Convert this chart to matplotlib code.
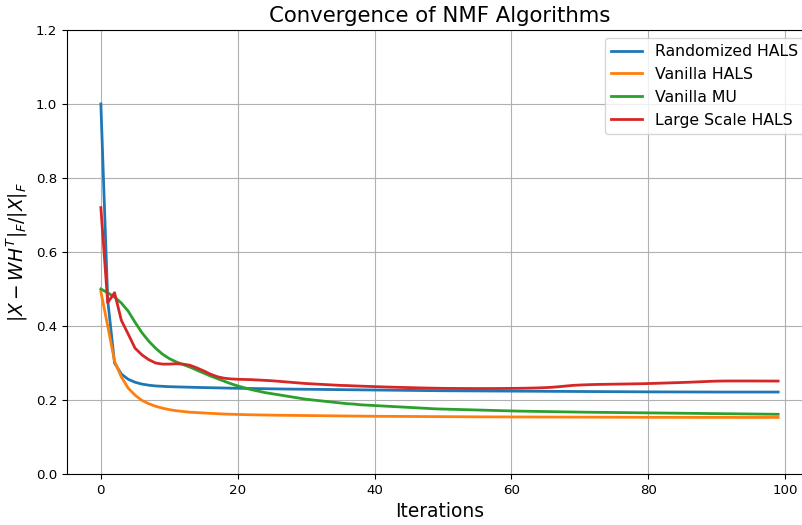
import matplotlib
matplotlib.use("Agg")
import matplotlib.pyplot as plt
import numpy as np

iterations = list(range(100))

randomized_hals = [
    1.000, 0.470, 0.300, 0.270, 0.256, 0.248, 0.243, 0.240, 0.238, 0.237,
    0.236, 0.2355, 0.235, 0.2345, 0.234, 0.2336, 0.2332, 0.2328, 0.2324, 0.232,
    0.2317, 0.2314, 0.2311, 0.2308, 0.2305, 0.2302, 0.2299, 0.2296, 0.2294, 0.2292,
    0.229, 0.2288, 0.2286, 0.2284, 0.2282, 0.228, 0.2278, 0.2276, 0.2274, 0.2272,
    0.227, 0.2268, 0.2266, 0.2264, 0.2262, 0.226, 0.2258, 0.2256, 0.2254, 0.2252,
    0.225, 0.2249, 0.2248, 0.2247, 0.2246, 0.2245, 0.2244, 0.2243, 0.2242, 0.2241,
    0.224, 0.2239, 0.2238, 0.2237, 0.2236, 0.2235, 0.2234, 0.2233, 0.2232, 0.2231,
    0.223, 0.2229, 0.2228, 0.2227, 0.2226, 0.2225, 0.2224, 0.2223, 0.2222, 0.2221,
    0.222, 0.222, 0.2219, 0.2219, 0.2218, 0.2218, 0.2217, 0.2217, 0.2216, 0.2216,
    0.2215, 0.2215, 0.2215, 0.2215, 0.2215, 0.2215, 0.2215, 0.2215, 0.2215, 0.2215,
]

vanilla_hals = [
    0.493, 0.400, 0.305, 0.262, 0.232, 0.213, 0.199, 0.190, 0.183, 0.178,
    0.174, 0.171, 0.169, 0.167, 0.166, 0.165, 0.164, 0.163, 0.162, 0.1615,
    0.161, 0.1605, 0.160, 0.1597, 0.1594, 0.1591, 0.1588, 0.1586, 0.1584, 0.1582,
    0.158, 0.1578, 0.1576, 0.1574, 0.1572, 0.157, 0.1568, 0.1566, 0.1564, 0.1562,
    0.156, 0.1559, 0.1558, 0.1557, 0.1556, 0.1555, 0.1554, 0.1553, 0.1552, 0.1551,
    0.155, 0.1549, 0.1548, 0.1547, 0.1546, 0.1545, 0.1544, 0.1544, 0.1543, 0.1543,
    0.1542, 0.1542, 0.1541, 0.1541, 0.154, 0.154, 0.1539, 0.1539, 0.1538, 0.1538,
    0.1537, 0.1537, 0.1536, 0.1536, 0.1535, 0.1535, 0.1534, 0.1534, 0.1533, 0.1533,
    0.1533, 0.1532, 0.1532, 0.1532, 0.1531, 0.1531, 0.1531, 0.153, 0.153, 0.153,
    0.153, 0.153, 0.153, 0.1529, 0.1529, 0.1529, 0.1529, 0.1529, 0.1529, 0.1529,
]

vanilla_mu = [
    0.500, 0.490, 0.478, 0.462, 0.440, 0.410, 0.382, 0.359, 0.340, 0.324,
    0.312, 0.303, 0.296, 0.289, 0.281, 0.273, 0.265, 0.258, 0.251, 0.244,
    0.238, 0.233, 0.228, 0.224, 0.220, 0.217, 0.214, 0.211, 0.208, 0.205,
    0.202, 0.200, 0.198, 0.196, 0.194, 0.192, 0.190, 0.189, 0.187, 0.186,
    0.185, 0.184, 0.183, 0.182, 0.181, 0.180, 0.179, 0.178, 0.177, 0.176,
    0.1755, 0.175, 0.1745, 0.174, 0.1735, 0.173, 0.1725, 0.172, 0.1715, 0.171,
    0.1705, 0.170, 0.1697, 0.1694, 0.1691, 0.1688, 0.1685, 0.1682, 0.1679, 0.1676,
    0.1673, 0.167, 0.1668, 0.1666, 0.1664, 0.1662, 0.166, 0.1658, 0.1656, 0.1654,
    0.1652, 0.165, 0.1648, 0.1646, 0.1644, 0.1642, 0.164, 0.1638, 0.1636, 0.1634,
    0.1632, 0.163, 0.1628, 0.1626, 0.1624, 0.1622, 0.162, 0.1618, 0.1616, 0.1614,
]

large_scale_hals = [
    0.720, 0.463, 0.490, 0.415, 0.378, 0.340, 0.322, 0.309, 0.300, 0.297,
    0.297, 0.298, 0.297, 0.294, 0.287, 0.279, 0.270, 0.263, 0.259, 0.257,
    0.256, 0.2555, 0.255, 0.254, 0.253, 0.252, 0.2505, 0.249, 0.2475, 0.246,
    0.2445, 0.2435, 0.2425, 0.2415, 0.2405, 0.2395, 0.239, 0.2382, 0.2375, 0.2368,
    0.2362, 0.2356, 0.235, 0.2345, 0.234, 0.2335, 0.233, 0.2326, 0.2322, 0.2318,
    0.2315, 0.2313, 0.2312, 0.2311, 0.231, 0.231, 0.231, 0.231, 0.2311, 0.2312,
    0.2314, 0.2316, 0.2319, 0.2323, 0.2328, 0.2335, 0.2345, 0.236, 0.2378, 0.2395,
    0.2405, 0.2412, 0.2418, 0.2422, 0.2425, 0.2428, 0.2431, 0.2434, 0.2437, 0.244,
    0.2445, 0.245, 0.2456, 0.2462, 0.2468, 0.2474, 0.248, 0.2488, 0.2496, 0.2504,
    0.251, 0.2513, 0.2514, 0.2514, 0.2514, 0.2514, 0.2513, 0.2513, 0.2512, 0.2512,
]

series = [
    ("Randomized HALS", randomized_hals),
    ("Vanilla HALS", vanilla_hals),
    ("Vanilla MU", vanilla_mu),
    ("Large Scale HALS", large_scale_hals),
]

plt.rcParams["xtick.labelsize"] = 9.6
plt.rcParams["ytick.labelsize"] = 9.6

fig = plt.figure(figsize=(8.02, 5.25), dpi=100)
ax = fig.add_axes([67 / 802, 51 / 525, 745 / 802, 444 / 525])
for name, vals in series:
    ax.plot(iterations, vals, label=name, linewidth=2)

ax.set_ylim(0, 1.2)
ax.set_yticks(np.arange(0, 1.21, 0.2))
ax.set_xticks([0, 20, 40, 60, 80, 100])
ax.grid(True)
ax.set_title("Convergence of NMF Algorithms", fontsize=15.3)
ax.set_xlabel("Iterations", fontsize=13.4)
ax.set_ylabel(r"$|X - WH^T|_F / |X|_F$", fontsize=13.4)
ax.legend(loc="upper right", fontsize=11.3)

fig.savefig("out.png", dpi=100)
